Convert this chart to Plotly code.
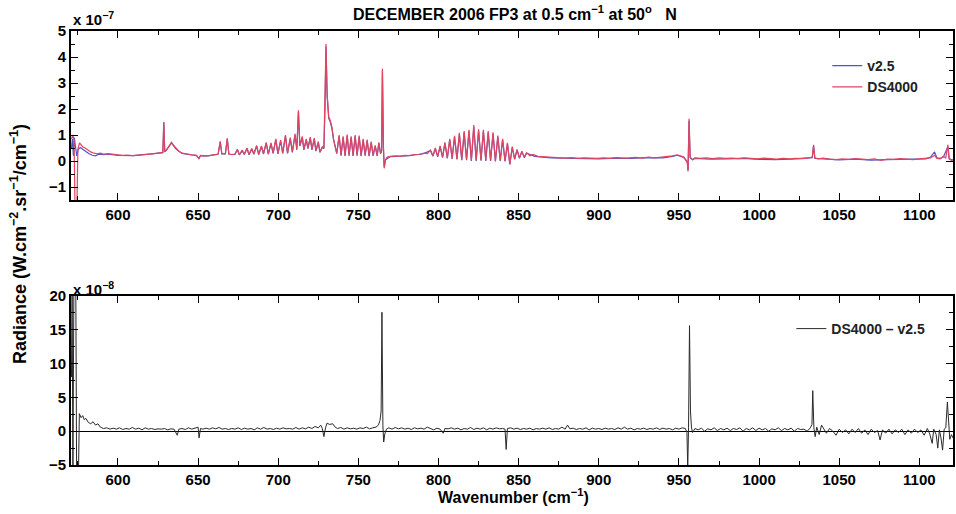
import plotly.graph_objects as go

# ---------------- DATA (radiance in units of 1e-7, difference in units of 1e-8) ----------------
ds4000_wn = [571.0, 571.8, 572.6, 573.2, 574.4, 575.0, 576.0, 577.0, 578.0, 579.5, 581.0, 583.0, 585.0, 587.0, 589.0,
             591.0, 594.0, 597.0, 600.0, 603.0, 606.0, 609.0, 612.0, 615.0, 618.0, 621.0, 624.0, 627.0, 628.0, 628.6,
             629.2, 630.5, 632.0, 633.4, 634.5, 636.0, 638.0, 640.0, 643.0, 646.0, 649.0, 650.5, 651.5, 654.0, 657.0,
             660.0, 662.5, 663.8, 664.8, 667.0, 668.2, 669.2, 671.0, 673.0,
             674.5, 675.8, 677.5, 678.8, 680.5, 681.8, 683.5, 684.8, 686.5, 687.8, 689.5, 690.8, 692.5, 693.8, 695.5,
             696.8, 698.5, 699.8, 701.5, 702.8, 704.5, 705.8, 707.5, 708.8, 710.5, 711.6, 712.6, 713.5, 715.0, 716.0,
             717.5, 718.5, 720.0, 721.0, 722.5, 723.5, 725.0, 726.0, 727.5, 728.5, 729.2, 729.8, 730.5, 731.5, 732.5,
             733.5, 734.5, 735.5, 736.5, 738.0, 739.2, 740.5, 741.7, 743.0, 744.2, 745.5, 746.7, 748.0, 749.2, 750.5,
             751.7, 753.0, 754.2, 755.5, 756.7, 758.0, 759.2, 760.5, 761.7, 762.8, 763.8, 764.5, 765.0, 765.6, 766.1,
             767.0, 768.0, 770.0, 773.0, 776.0, 779.0, 782.0, 785.0, 788.0, 791.0, 793.0,
             795.0, 796.5, 798.0, 799.5, 801.0, 802.5, 804.0, 805.5, 807.0, 808.5, 810.0, 811.5, 813.0, 814.5, 816.0,
             817.5, 819.0, 820.5, 822.0, 823.5, 825.0, 826.5, 828.0, 829.5, 831.0, 832.5, 834.0, 835.5, 837.0, 838.5,
             840.0, 841.5, 843.0, 844.5, 846.0, 847.5, 849.0, 850.5, 852.0, 853.5, 855.0, 857.0, 859.0, 862.0, 865.0,
             868.0, 871.0, 875.0, 879.0, 883.0, 887.0, 891.0, 895.0, 899.0, 903.0, 907.0, 911.0, 915.0, 919.0, 923.0,
             927.0, 931.0, 935.0, 939.0, 943.0, 946.0, 949.0, 951.0, 953.0, 955.2, 955.7, 956.3, 957.0, 958.5, 960.0,
             963.0, 967.0, 971.0, 975.0, 979.0, 983.0, 987.0, 991.0, 995.0, 999.0, 1003.0, 1007.0, 1011.0, 1015.0,
             1019.0, 1023.0, 1027.0, 1031.0, 1033.2, 1034.0, 1034.8, 1037.0, 1040.0, 1044.0, 1048.0, 1052.0, 1056.0,
             1060.0, 1064.0, 1068.0, 1072.0, 1076.0, 1080.0, 1084.0, 1088.0, 1092.0, 1096.0, 1100.0, 1104.0, 1107.0,
             1109.5, 1111.0, 1113.0, 1115.0, 1116.5, 1117.8, 1118.6, 1120.0, 1121.0]
ds4000_rad = [0.85, 1.0, 0.8, -1.7, -1.7, 0.45, 0.7, 0.62, 0.55, 0.5, 0.42, 0.35, 0.3, 0.28, 0.3,
              0.27, 0.28, 0.25, 0.24, 0.22, 0.23, 0.21, 0.22, 0.24, 0.25, 0.27, 0.29, 0.31, 0.33, 1.5,
              0.36, 0.45, 0.6, 0.72, 0.62, 0.5, 0.38, 0.3, 0.26, 0.24, 0.22, 0.08, 0.22, 0.2, 0.21,
              0.24, 0.27, 0.76, 0.28, 0.28, 0.87, 0.27, 0.25, 0.27,
              0.45, 0.24, 0.42, 0.26, 0.5, 0.25, 0.48, 0.27, 0.6, 0.26, 0.58, 0.28, 0.72, 0.27, 0.7,
              0.3, 0.85, 0.28, 0.8, 0.3, 1.0, 0.3, 0.9, 0.35, 1.05, 0.45, 1.95, 0.6, 0.95, 0.45,
              0.85, 0.5, 0.92, 0.45, 0.88, 0.4, 0.75, 0.35, 0.55, 0.5, 2.2, 4.5, 2.6, 1.7, 1.55,
              1.3, 0.85, 0.5, 0.3, 1.0, 0.22, 0.95, 0.2, 1.02, 0.22, 0.95, 0.2, 1.0, 0.22, 0.98,
              0.2, 0.85, 0.22, 0.82, 0.2, 0.75, 0.22, 0.6, 0.22, 0.72, 0.3, 0.4, 3.55, 0.6, -0.28,
              0.05, 0.15, 0.18, 0.2, 0.18, 0.22, 0.21, 0.25, 0.26, 0.3, 0.28,
              0.42, 0.2, 0.5, 0.18, 0.58, 0.15, 0.72, 0.12, 0.85, 0.1, 0.97, 0.08, 1.08, 0.05, 1.15,
              0.05, 1.2, 0.02, 1.38, 0.02, 1.22, 0.03, 1.2, 0.02, 1.15, 0.02, 1.1, 0.0, 0.98, 0.02,
              0.85, 0.0, 0.7, -0.12, 0.55, 0.08, 0.45, 0.12, 0.38, 0.15, 0.32, 0.2, 0.25, 0.18, 0.17,
              0.14, 0.13, 0.12, 0.11, 0.13, 0.1, 0.12, 0.11, 0.1, 0.12, 0.1, 0.13, 0.11, 0.12, 0.14,
              0.11, 0.15, 0.12, 0.14, 0.16, 0.2, 0.24, 0.2, 0.15, -0.05, -0.4, 1.62, 0.15, 0.05, 0.12,
              0.1, 0.12, 0.09, 0.12, 0.1, 0.11, 0.09, 0.12, 0.1, 0.08, 0.11, 0.09, 0.07, 0.1,
              0.08, 0.1, 0.09, 0.12, 0.15, 0.62, 0.12, 0.08, 0.11, 0.07, 0.05, 0.08, 0.06,
              0.09, 0.07, 0.05, 0.08, 0.02, 0.07, 0.06, 0.09, 0.07, 0.05, 0.08, 0.1, 0.12,
              0.22, 0.1, 0.08, 0.18, 0.12, 0.62, 0.1, 0.02, 0.05]

v25_wn = [571.0, 571.6, 572.2, 572.8, 573.5, 574.3, 575.2, 576.5, 578.0, 580.0, 582.0, 584.0, 586.0, 588.0, 591.0,
          594.0, 597.0, 600.0, 610.0, 620.0, 627.0, 628.0, 628.6, 629.2, 630.5, 632.0, 633.4, 634.5, 636.0, 638.0,
          640.0, 645.0, 649.0, 650.5, 651.5, 656.0, 662.5, 663.8, 664.8, 667.0, 668.2, 669.2, 673.0,
          674.5, 675.8, 677.5, 678.8, 680.5, 681.8, 683.5, 684.8, 686.5, 687.8, 689.5, 690.8, 692.5, 693.8, 695.5,
          696.8, 698.5, 699.8, 701.5, 702.8, 704.5, 705.8, 707.5, 708.8, 710.5, 711.6, 712.6, 713.5, 715.0, 716.0,
          717.5, 718.5, 720.0, 721.0, 722.5, 723.5, 725.0, 726.0, 727.5, 728.5, 729.2, 729.8, 730.5, 731.5, 732.5,
          733.5, 734.5, 735.5, 736.5, 738.0, 739.2, 740.5, 741.7, 743.0, 744.2, 745.5, 746.7, 748.0, 749.2, 750.5,
          751.7, 753.0, 754.2, 755.5, 756.7, 758.0, 759.2, 760.5, 761.7, 762.8, 763.8, 764.5, 765.0, 765.6, 766.1,
          767.0, 770.0, 780.0, 790.0,
          795.0, 796.5, 798.0, 799.5, 801.0, 802.5, 804.0, 805.5, 807.0, 808.5, 810.0, 811.5, 813.0, 814.5, 816.0,
          817.5, 819.0, 820.5, 822.0, 823.5, 825.0, 826.5, 828.0, 829.5, 831.0, 832.5, 834.0, 835.5, 837.0, 838.5,
          840.0, 841.5, 843.0, 844.5, 846.0, 847.5, 849.0, 850.5, 852.0, 853.5, 855.0, 860.0, 870.0,
          880.0, 890.0, 900.0, 910.0, 920.0, 930.0, 940.0, 946.0, 949.0, 953.0, 955.2, 955.7, 956.3, 957.0, 958.5,
          960.0, 970.0, 980.0, 990.0, 1000.0, 1010.0, 1020.0, 1030.0, 1033.2, 1034.0, 1034.8, 1040.0, 1050.0, 1060.0,
          1070.0, 1080.0, 1090.0, 1100.0, 1104.0, 1107.0, 1109.5, 1111.0, 1113.0, 1115.0, 1117.8, 1118.6, 1120.0, 1121.0]
v25_rad = [0.5, 0.85, 0.2, 0.9, 0.55, 0.2, 0.45, 0.52, 0.45, 0.35, 0.28, 0.22, 0.2, 0.26, 0.24,
           0.26, 0.23, 0.22, 0.21, 0.26, 0.3, 0.32, 1.48, 0.35, 0.44, 0.58, 0.7, 0.6, 0.48, 0.37,
           0.29, 0.24, 0.21, 0.1, 0.21, 0.2, 0.26, 0.74, 0.27, 0.27, 0.85, 0.26, 0.25,
           0.43, 0.23, 0.4, 0.25, 0.48, 0.24, 0.46, 0.26, 0.57, 0.25, 0.55, 0.27, 0.69, 0.26, 0.67,
           0.29, 0.81, 0.27, 0.77, 0.29, 0.96, 0.29, 0.86, 0.33, 1.0, 0.43, 1.88, 0.57, 0.9, 0.43,
           0.81, 0.48, 0.88, 0.43, 0.84, 0.38, 0.71, 0.33, 0.52, 0.48, 2.1, 4.4, 2.5, 1.64, 1.5,
           1.25, 0.82, 0.48, 0.28, 0.95, 0.2, 0.9, 0.19, 0.97, 0.2, 0.9, 0.19, 0.95, 0.2, 0.93,
           0.19, 0.81, 0.2, 0.78, 0.19, 0.71, 0.2, 0.57, 0.2, 0.68, 0.28, 0.38, 3.45, 0.55, -0.22,
           0.05, 0.17, 0.2, 0.27,
           0.4, 0.18, 0.47, 0.16, 0.55, 0.13, 0.68, 0.1, 0.81, 0.08, 0.92, 0.06, 1.03, 0.03, 1.09,
           0.03, 1.14, 0.0, 1.31, 0.0, 1.16, 0.01, 1.14, 0.0, 1.09, 0.0, 1.05, -0.02, 0.93, 0.0,
           0.81, -0.02, 0.66, -0.13, 0.52, 0.06, 0.43, 0.1, 0.36, 0.13, 0.3, 0.18, 0.12,
           0.1, 0.09, 0.08, 0.11, 0.1, 0.13, 0.12, 0.18, 0.22, 0.14, -0.03, -0.35, 1.55, 0.13, 0.05,
           0.1, 0.07, 0.08, 0.1, 0.06, 0.05, 0.07, 0.1, 0.13, 0.58, 0.1, 0.08, 0.04, 0.07,
           0.03, 0.05, 0.06, 0.05, 0.08, 0.15, 0.35, 0.12, 0.1, 0.15, 0.55, 0.08, 0.05, 0.03]

diff_wn = [571.0, 571.4, 571.9, 572.5, 573.7, 574.2, 575.4, 575.9, 577.0, 578.0, 579.0, 580.0, 581.5, 583.0, 584.5,
           586.0, 587.5, 589.0, 591.0, 593.0, 595.0, 597.0, 599.0, 601.0, 603.0, 605.0, 607.0, 609.0, 611.0, 613.0,
           615.0, 617.0, 619.0, 621.0, 623.0, 625.0, 627.0, 629.0, 631.0, 633.0, 635.0, 637.0, 638.0, 640.0, 642.0,
           644.0, 646.0, 648.0, 650.0, 650.6, 651.5, 653.0, 655.0, 657.0, 659.0, 661.0, 663.0, 665.0, 667.0, 669.0,
           671.0, 673.0, 675.0, 677.0, 679.0, 681.0, 683.0, 685.0, 687.0, 689.0, 691.0, 693.0, 695.0, 697.0, 699.0,
           701.0, 703.0, 705.0, 707.0, 709.0, 711.0, 713.0, 715.0, 717.0, 719.0, 721.0, 723.0, 725.0, 726.5, 727.5,
           728.5, 729.5, 730.5, 732.0, 734.0, 735.5, 737.0, 739.0, 741.0, 743.0, 745.0, 747.0, 749.0, 751.0, 753.0,
           755.0, 757.0, 759.0, 761.0, 762.5, 763.5, 764.2, 764.7, 765.3, 765.8, 766.5, 767.5, 769.0, 771.0, 773.0,
           775.0, 777.0, 779.0, 781.0, 783.0, 785.0, 787.0, 789.0, 791.0, 793.0, 795.0, 797.0, 799.0, 801.0, 803.0,
           804.0, 806.0, 808.0, 810.0, 812.0, 814.0, 816.0, 818.0, 820.0, 822.0, 824.0, 826.0, 828.0, 830.0, 832.0,
           834.0, 836.0, 838.0, 840.0, 841.5, 842.2, 843.0, 845.0, 847.0, 849.0, 851.0, 853.0, 855.0, 857.0, 859.0,
           861.0, 863.0, 865.0, 867.0, 869.0, 871.0, 873.0, 875.0, 877.0, 879.0, 880.5, 882.0, 884.0, 886.0, 888.0,
           890.0, 892.0, 894.0, 896.0, 898.0, 900.0, 902.0, 904.0, 906.0, 908.0, 910.0, 912.0, 914.0, 916.0, 918.0,
           920.0, 922.0, 924.0, 926.0, 928.0, 930.0, 932.0, 934.0, 936.0, 938.0, 940.0, 942.0, 944.0, 946.0, 948.0,
           950.0, 952.0, 954.0, 955.0, 955.5, 956.0, 956.6, 957.2, 957.8, 958.5, 960.0, 962.0, 964.0, 966.0, 968.0,
           970.0, 972.0, 974.0, 976.0, 978.0, 980.0, 982.0, 984.0, 986.0, 988.0, 990.0, 992.0, 994.0, 996.0, 998.0,
           1000.0, 1002.0, 1004.0, 1006.0, 1008.0, 1010.0, 1012.0, 1014.0, 1016.0, 1018.0, 1020.0, 1022.0, 1024.0,
           1026.0, 1028.0, 1030.0, 1032.0, 1033.0, 1033.5, 1034.2, 1035.0, 1036.0, 1037.5, 1039.0, 1040.0, 1042.0,
           1044.0, 1046.0, 1048.0, 1050.0, 1052.0, 1054.0, 1056.0, 1058.0, 1060.0, 1062.0, 1064.0, 1066.0, 1068.0,
           1070.0, 1072.0, 1074.0, 1075.5, 1077.0, 1079.0, 1081.0, 1083.0, 1085.0, 1087.0, 1089.0, 1091.0, 1093.0,
           1095.0, 1097.0, 1099.0, 1101.0, 1103.0, 1105.0, 1106.5, 1108.0, 1109.0, 1110.5, 1111.5, 1112.5, 1113.5,
           1114.5, 1115.5, 1116.5, 1117.5, 1118.3, 1119.0, 1120.0, 1121.0]
diff_rad = [8.0, 21, -6, 21, 21, -6, -6, 2.6, 2.0, 2.3, 1.7, 1.9, 1.3, 1.1, 1.4,
            0.9, 1.1, 0.6, 0.4, 0.5, 0.3, 0.45, 0.3, 0.5, 0.25, 0.4, 0.3, 0.55, 0.3, 0.45,
            0.2, 0.5, 0.3, 0.4, 0.25, 0.35, 0.3, 0.4, 0.2, 0.35, 0.3, -0.6, 0.3, 0.4, 0.25,
            0.5, 0.3, 0.4, 0.6, -1.0, 0.4, 0.3, 0.45, 0.3, 0.5, 0.35, 0.55, 0.3, 0.4, 0.25,
            0.4, 0.3, 0.5, 0.25, 0.45, 0.3, 0.4, 0.2, 0.5, 0.3, 0.55, 0.3, 0.4, 0.25, 0.45,
            0.3, 0.5, 0.35, 0.4, 0.3, 0.55, 0.3, 0.5, 0.35, 0.6, 0.4, 0.7, 0.5, 0.9, 0.4,
            -0.8, 0.5, 1.2, 1.0, 1.1, 0.6, 0.4, 0.55, 0.3, 0.5, 0.35, 0.45, 0.3, 0.5, 0.4,
            0.6, 0.35, 0.5, 0.6, 0.9, 1.6, 3.0, 17.6, 0.8, -1.6, -0.4, 0.3, 0.5, 0.3, 0.55,
            0.35, 0.5, 0.3, 0.45, 0.25, 0.5, 0.35, 0.45, 0.3, 0.6, 0.35, 0.2, 0.45, 0.3, -0.3,
            0.4, 0.35, 0.5, 0.3, 0.45, 0.2, 0.4, 0.3, 0.55, 0.25, 0.45, 0.3, 0.5, 0.2, 0.45,
            0.3, 0.5, 0.35, 0.4, 0.3, -2.7, 0.4, 0.5, 0.3, 0.45, 0.25, 0.4, 0.3, 0.45, 0.2,
            0.4, 0.3, 0.45, 0.3, 0.5, 0.25, 0.4, 0.3, 0.6, 0.3, 0.9, 0.35, 0.45, 0.25, 0.4,
            0.3, 0.5, 0.2, 0.45, 0.3, 0.4, 0.25, 0.45, 0.3, 0.4, 0.25, 0.5, 0.3, 0.6, 0.3,
            0.45, 0.2, 0.4, 0.3, 0.45, 0.25, 0.4, 0.3, 0.5, 0.25, 0.45, 0.3, 0.4, 0.2, 0.45,
            0.3, 0.5, 0.4, -0.2, -5.5, 0.5, 15.6, 3.0, 0.6, -0.2, 0.4, 0.2, 0.45, 0.0, 0.35,
            0.2, 0.5, 0.1, 0.4, 0.2, 0.45, 0.1, 0.4, 0.25, 0.5, 0.0, 0.4, 0.2, 0.5, 0.1,
            0.45, 0.2, 0.4, 0.0, 0.35, 0.2, 0.5, 0.1, 0.4, 0.2, 0.45, 0.0, 0.4,
            0.25, 0.3, 0.0, 0.5, 1.0, 6.0, 0.5, -0.8, 0.6, -0.5, 0.9, 0.5, -0.3,
            0.4, 0.0, -0.6, 0.3, -0.2, 0.2, -0.4, 0.3, -0.2, 0.4, -0.3, 0.2, -0.5,
            0.3, -0.2, 0.1, -1.3, 0.2, -0.3, 0.3, -0.4, 0.2, -0.2, 0.3, -0.5, 0.2,
            -0.3, 0.3, -0.2, 0.2, -0.6, 0.4, -0.4, -1.8, 0.3, -0.5, -2.5, 0.2, -1.0,
            -2.8, 0.3, 0.5, 4.3, 0.5, -1.2, -0.5, -1.0]

top_ticks = [-1, 0, 1, 2, 3, 4, 5]
bottom_ticks = [-5, 0, 5, 10, 15, 20]
x_ticks = [600, 650, 700, 750, 800, 850, 900, 950, 1000, 1050, 1100]

# ---------------- FIGURE ----------------
FONT = "Liberation Sans"
RED = "#e2445f"
BLUE = "#4d55c8"

fig = go.Figure()
fig.add_trace(go.Scatter(x=v25_wn, y=v25_rad, mode="lines", name="v2.5",
                         line=dict(color=BLUE, width=1.2), xaxis="x", yaxis="y", legend="legend"))
fig.add_trace(go.Scatter(x=ds4000_wn, y=ds4000_rad, mode="lines", name="DS4000",
                         line=dict(color=RED, width=1.2), xaxis="x", yaxis="y", legend="legend"))
fig.add_trace(go.Scatter(x=diff_wn, y=diff_rad, mode="lines", name="DS4000 \u2013 v2.5",
                         line=dict(color="#2a2a2a", width=1.0), xaxis="x2", yaxis="y2", legend="legend2"))

W, H = 956, 514
ml, mr, mt, mb = 71, 1, 31, 49
ph = H - mt - mb
def py(px):  # pixel y -> paper y
    return (H - mb - px) / ph
def pxx(px):  # pixel x -> paper x
    return (px - ml) / (W - ml - mr)

tickfont = dict(family=FONT, size=15, color="black", weight="bold")
common_x = dict(range=[570.7, 1121], tickvals=x_ticks, ticks="inside", ticklen=7, tickwidth=1.3,
                tickcolor="black", showline=True, linecolor="black", linewidth=1.6, mirror="allticks",
                showgrid=False, zeroline=False, tickfont=tickfont,
                minor=dict(dtick=25, tick0=575, ticks="inside", ticklen=4, tickwidth=1, tickcolor="black"))
common_y = dict(ticks="inside", ticklen=7, tickwidth=1.3, tickcolor="black", showline=True,
                linecolor="black", linewidth=1.6, mirror="allticks", showgrid=False, tickfont=tickfont)

legfont = dict(family=FONT, size=14, color="#222", weight="bold")
fig.update_layout(
    width=W, height=H, margin=dict(l=ml, r=mr, t=mt, b=mb),
    paper_bgcolor="white", plot_bgcolor="white", showlegend=True,
    xaxis=dict(domain=[0, 1], anchor="y", **common_x),
    yaxis=dict(domain=[py(200), 1], anchor="x", range=[-1.5, 5], tickvals=top_ticks, zeroline=False,
               minor=dict(dtick=0.5, tick0=0, ticks="inside", ticklen=4, tickwidth=1, tickcolor="black"),
               **common_y),
    xaxis2=dict(domain=[0, 1], anchor="y2", **common_x),
    yaxis2=dict(domain=[0, py(296)], anchor="x2", range=[-5, 20], tickvals=bottom_ticks,
                zeroline=True, zerolinecolor="black", zerolinewidth=1.2,
                minor=dict(dtick=2.5, tick0=0, ticks="inside", ticklen=4, tickwidth=1, tickcolor="black"),
                **common_y),
    legend=dict(x=pxx(829), y=py(50), xanchor="left", yanchor="top", bgcolor="rgba(0,0,0,0)",
                font=legfont, itemwidth=30, tracegroupgap=0),
    legend2=dict(x=pxx(793), y=py(313), xanchor="left", yanchor="top", bgcolor="rgba(0,0,0,0)",
                 font=legfont, itemwidth=30),
)

fig.add_annotation(text="DECEMBER 2006 FP3 at 0.5 cm<sup>\u22121</sup> at 50<sup>o</sup>   N",
                   xref="paper", yref="paper", x=pxx(516), y=py(13), xanchor="center", yanchor="middle",
                   showarrow=False, font=dict(family=FONT, size=16, color="black", weight="bold"))
fig.add_annotation(text="x 10<sup>\u22127</sup>", xref="paper", yref="paper", x=pxx(71), y=py(19),
                   xanchor="left", yanchor="middle", showarrow=False,
                   font=dict(family=FONT, size=15, color="black", weight="bold"))
fig.add_annotation(text="x 10<sup>\u22128</sup>", xref="paper", yref="paper", x=pxx(71), y=py(288),
                   xanchor="left", yanchor="middle", showarrow=False,
                   font=dict(family=FONT, size=15, color="black", weight="bold"))
fig.add_annotation(text="Radiance (W.cm<sup>\u22122</sup>.sr<sup>\u22121</sup>/cm<sup>\u22121</sup>)",
                   xref="paper", yref="paper", x=pxx(18), y=py(244), xanchor="center", yanchor="middle",
                   textangle=-90, showarrow=False, font=dict(family=FONT, size=18, color="black", weight="bold"))
fig.add_annotation(text="Wavenumber (cm<sup>\u22121</sup>)", xref="paper", yref="paper", x=pxx(515), y=py(496),
                   xanchor="center", yanchor="middle", showarrow=False,
                   font=dict(family=FONT, size=16, color="black", weight="bold"))

fig.write_html("out.html")
